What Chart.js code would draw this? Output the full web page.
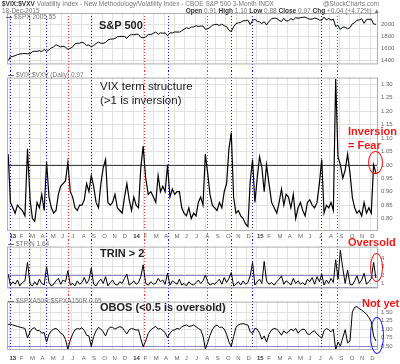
<!DOCTYPE html>
<html>
<head>
<meta charset="utf-8">
<script src="https://cdn.jsdelivr.net/npm/chart.js@4.4.1/dist/chart.umd.min.js"></script>
<style>
  html, body { margin: 0; padding: 0; background: #fff; }
  #wrap { position: relative; width: 400px; height: 364px; overflow: hidden; font-family: "Liberation Sans", Arial, sans-serif; }
  canvas { position: absolute; left: 0; }
  .t { position: absolute; white-space: nowrap; line-height: 1; }
  .hdr { font-size: 6.5px; color: #777; }
  .hdr b { color: #333; }
  .lbl { font-size: 6.5px; color: #777; }
  .mark { display: inline-block; width: 6px; height: 1px; background: #666; vertical-align: middle; margin-right: 2px; }
  .note { font-size: 11px; font-weight: bold; color: #222; }
  .plain { font-weight: normal; font-size: 11.5px; }
  .red { color: #ee1a1a; }
  .ring { position: absolute; border-radius: 50%; box-sizing: border-box; }
</style>
</head>
<body>
<div id="wrap">
  <canvas id="c1" width="400" height="71" style="top:0"></canvas>
  <canvas id="c2" width="400" height="169" style="top:71px"></canvas>
  <canvas id="c3" width="400" height="55" style="top:240px"></canvas>
  <canvas id="c4" width="400" height="69" style="top:295px"></canvas>

  <div class="t hdr" style="left:2px;top:1px"><b>$VIX:$VXV</b> Volatility Index - New Methodology/Volatility Index - CBOE S&amp;P 500 3-Month INDX</div>
  <div class="t hdr" style="right:21px;top:1px">@StockCharts.com</div>
  <div class="t hdr" style="left:2px;top:8px">18-Dec-2015</div>
  <div class="t hdr" style="right:20px;top:8px"><b>Open</b> 0.91 <b>High</b> 1.10 <b>Low</b> 0.88 <b>Close</b> 0.97 <b>Chg</b> +0.04 (+4.72%) &#9650;</div>

  <div class="t lbl" style="left:6px;top:14px"><span class="mark"></span>$SPX 2005.55</div>
  <div class="t lbl" style="left:8px;top:72px"><span class="mark"></span>$VIX:$VXV (Daily) 0.97</div>
  <div class="t lbl" style="left:8px;top:241px"><span class="mark"></span>$TRIN 1.64</div>
  <div class="t lbl" style="left:8px;top:298px"><span class="mark"></span>$SPXA50R:$SPXA150R 0.65</div>

  <div class="t note" style="left:99px;top:20px">S&amp;P 500</div>
  <div class="t note plain" style="left:100px;top:81px">VIX term structure</div>
  <div class="t note plain" style="left:100px;top:95px">(&gt;1 is inversion)</div>
  <div class="t note red" style="left:348px;top:126px">Inversion</div>
  <div class="t note red" style="left:348px;top:140px">= Fear</div>
  <div class="t note" style="left:100px;top:248px">TRIN &gt; 2</div>
  <div class="t note red" style="left:348px;top:237px">Oversold</div>
  <div class="t note" style="left:100px;top:302px">OBOS (&lt;0.5 is oversold)</div>
  <div class="t note red" style="left:362px;top:298px">Not yet</div>

  <div class="ring" style="left:368px;top:151px;width:15px;height:23px;border:1.5px solid #ee1a1a"></div>
  <div class="ring" style="left:370px;top:253px;width:13px;height:29px;border:1.5px solid #ee1a1a"></div>
  <div class="ring" style="left:370px;top:317px;width:14px;height:37px;border:1.5px solid #1a1aee"></div>
</div>

<script>
// weekly closes (Fridays), first point 28-Dec-2012, last 18-Dec-2015
const firstWeek = [2012, 11, 28];

const spx = [1402,
  // 2013
  1466, 1472, 1486, 1503, 1513, 1518, 1520, 1516, 1518, 1551, 1561, 1556, 1569,
  1553, 1588, 1555, 1582, 1614, 1633, 1667, 1650, 1631, 1643, 1626, 1592, 1606,
  1632, 1680, 1692, 1692, 1710, 1691, 1656, 1664, 1633, 1655, 1688, 1710, 1692,
  1691, 1704, 1745, 1760, 1762, 1771, 1798, 1804, 1806, 1805, 1775, 1818, 1841,
  // 2014
  1831, 1843, 1838, 1790, 1783, 1797, 1838, 1836, 1859, 1878, 1841, 1866, 1857,
  1865, 1816, 1865, 1863, 1881, 1878, 1878, 1900, 1924, 1950, 1936, 1963, 1961,
  1985, 1968, 1978, 1978, 1925, 1931, 1955, 1988, 2003, 2008, 1985, 2010, 1983,
  1968, 1906, 1887, 1964, 2018, 2032, 2039, 2064, 2068, 2075, 2003, 2071, 2089,
  // 2015
  2058, 2045, 2019, 2051, 1995, 2055, 2097, 2110, 2105, 2071, 2053, 2108, 2061,
  2067, 2102, 2081, 2117, 2108, 2116, 2123, 2126, 2107, 2092, 2094, 2110, 2101,
  2077, 2077, 2127, 2079, 2104, 2078, 2092, 1971, 1989, 1921, 1961, 1958, 1932,
  1951, 2015, 2033, 2075, 2079, 2099, 2023, 2089, 2090, 2092, 2012, 2006
];

const vixRatio = [1.04,
  // 2013
  0.86, 0.84, 0.82, 0.85, 0.84, 0.83, 0.81, 1.06, 0.87, 0.80, 0.79, 0.86, 0.84,
  0.89, 0.83, 1.01, 0.88, 0.84, 0.82, 0.83, 0.89, 0.92, 0.93, 0.94, 1.01, 0.90,
  0.88, 0.84, 0.83, 0.85, 0.85, 0.87, 0.93, 0.90, 0.96, 0.92, 0.86, 0.84, 0.93,
  0.99, 1.02, 0.86, 0.85, 0.86, 0.89, 0.84, 0.83, 0.82, 0.88, 0.93, 0.87, 0.83,
  // 2014
  0.88, 0.85, 0.84, 0.99, 1.07, 0.95, 0.89, 0.90, 0.88, 0.86, 0.96, 0.90, 0.92,
  0.90, 1.00, 0.88, 0.91, 0.89, 0.90, 0.90, 0.84, 0.82, 0.81, 0.84, 0.80, 0.82,
  0.81, 0.86, 0.88, 0.85, 1.04, 0.97, 0.89, 0.85, 0.84, 0.83, 0.86, 0.84, 0.90,
  0.93, 1.06, 1.12, 0.88, 0.82, 0.83, 0.81, 0.80, 0.78, 0.77, 0.94, 1.02, 0.86,
  // 2015
  0.95, 1.03, 0.99, 0.90, 1.00, 0.93, 0.86, 0.84, 0.82, 0.86, 0.91, 0.85, 0.89,
  0.88, 0.84, 0.89, 0.80, 0.84, 0.86, 0.83, 0.81, 0.86, 0.87, 0.85, 0.84, 0.86,
  0.93, 1.02, 0.82, 0.85, 0.84, 0.86, 0.83, 1.32, 1.03, 1.00, 0.95, 0.98, 1.04,
  0.97, 0.88, 0.84, 0.82, 0.83, 0.81, 0.86, 0.82, 0.84, 0.82, 1.00, 0.97
];

const trin = [2.1,
  // 2013
  0.8, 1.2, 0.9, 1.4, 0.7, 1.1, 1.3, 3.5, 0.9, 0.7, 1.2, 0.8, 1.5,
  1.0, 0.8, 3.0, 1.1, 0.7, 0.9, 1.3, 1.6, 0.9, 1.4, 1.2, 2.5, 0.8,
  1.0, 0.7, 1.3, 0.9, 1.1, 1.7, 1.0, 1.4, 2.8, 0.9, 0.7, 1.2, 1.5,
  1.0, 1.8, 0.7, 1.1, 1.4, 0.9, 0.8, 1.2, 1.0, 1.6, 2.1, 0.8, 1.0,
  // 2014
  1.3, 0.9, 1.1, 1.8, 3.2, 1.0, 0.8, 1.2, 0.9, 1.0, 1.6, 1.2, 1.4,
  0.9, 2.2, 0.8, 1.3, 1.1, 0.9, 1.5, 0.8, 1.0, 0.7, 1.2, 0.9, 0.8,
  1.1, 1.4, 1.0, 1.3, 2.0, 1.2, 0.8, 1.0, 0.9, 1.2, 1.5, 0.9, 1.7,
  1.1, 1.6, 2.3, 0.7, 0.9, 1.2, 0.8, 1.3, 0.9, 1.1, 1.9, 3.5, 0.8,
  // 2015
  1.2, 1.5, 1.0, 3.6, 1.3, 0.9, 1.1, 0.8, 1.2, 1.5, 1.9, 0.9, 1.3,
  1.1, 0.8, 1.6, 1.0, 1.3, 0.9, 1.1, 0.8, 1.5, 1.2, 1.7, 0.9, 1.8,
  1.2, 2.1, 0.8, 1.4, 1.0, 1.6, 1.1, 3.8, 1.5, 4.9, 2.8, 1.0, 2.6,
  0.9, 0.8, 1.3, 1.9, 1.0, 1.4, 2.2, 0.9, 1.2, 1.6, 3.5, 1.64
];

const obos = [1.13,
  // 2013
  1.15, 1.12, 1.10, 1.08, 1.06, 1.04, 1.02, 0.74, 0.92, 1.02, 1.04, 0.95, 0.96,
  0.88, 0.90, 0.62, 0.85, 0.95, 1.00, 1.02, 0.97, 0.88, 0.84, 0.70, 0.41, 0.68,
  0.85, 0.98, 1.02, 1.00, 1.04, 0.96, 0.82, 0.80, 0.49, 0.78, 0.95, 1.05, 1.00,
  0.92, 0.80, 0.98, 1.06, 1.05, 1.00, 1.04, 1.07, 1.05, 0.95, 0.86, 0.98, 1.02,
  // 2014
  1.00, 0.97, 0.98, 0.72, 0.48, 0.65, 0.88, 0.98, 1.04, 1.08, 1.00, 1.02, 0.96,
  0.90, 0.75, 0.88, 0.96, 0.98, 1.02, 1.00, 1.06, 1.10, 1.12, 1.08, 1.09, 1.12,
  1.07, 1.02, 0.98, 0.80, 0.42, 0.60, 0.82, 0.98, 1.08, 1.12, 1.05, 1.06, 1.00,
  0.85, 0.62, 0.49, 0.78, 1.05, 1.12, 1.15, 1.16, 1.14, 1.12, 0.92, 0.87, 1.02,
  // 2015
  1.00, 0.88, 0.70, 0.80, 0.62, 0.85, 0.98, 1.02, 1.00, 0.92, 0.82, 0.95, 0.88,
  0.92, 1.00, 0.95, 1.02, 0.88, 0.96, 1.00, 0.98, 0.86, 0.84, 0.92, 0.95, 0.85,
  0.80, 0.73, 0.95, 1.02, 0.98, 0.92, 1.00, 0.39, 0.62, 0.50, 0.75, 0.98, 0.60,
  0.65, 1.50, 1.64, 1.66, 1.60, 1.56, 1.50, 1.44, 1.34, 1.22, 0.80, 0.65
];

const monthLabels = [
  '13', 'F', 'M', 'A', 'M', 'J', 'J', 'A', 'S', 'O', 'N', 'D',
  '14', 'F', 'M', 'A', 'M', 'J', 'J', 'A', 'S', 'O', 'N', 'D',
  '15', 'F', 'M', 'A', 'M', 'J', 'J', 'A', 'S', 'O', 'N', 'D'
];

const blueEvents = ['2013-01-02', '2013-02-25', '2013-04-18', '2013-08-30', '2014-04-11',
  '2014-10-15', '2014-12-16', '2015-07-08'];
const redEvents = ['2013-06-20', '2014-02-03', '2014-08-06', '2015-08-24'];

const spxTicks = [1400, 1500, 1600, 1700, 1800, 1900, 2000, 2100];
const vixTicks = [0.80, 0.85, 0.90, 0.95, 1.00, 1.05, 1.10, 1.15, 1.20, 1.25, 1.30];
const trinTicks = [1, 2, 3, 4];
const obosTicks = [0.50, 0.75, 1.00, 1.25, 1.50];

const FONT = '"Liberation Sans", Arial, sans-serif';
const GRID = '#e2e2e2';

// months since 1-Jan-2013, fractional
function monthPos(d) {
	const y = d.getUTCFullYear();
	const mo = d.getUTCMonth();
	const dim = new Date(Date.UTC(y, mo + 1, 0)).getUTCDate();
	return (y - 2013) * 12 + mo + (d.getUTCDate() - 1) / dim;
}

const xs = spx.map((_, i) => monthPos(new Date(Date.UTC(firstWeek[0], firstWeek[1], firstWeek[2] + 7 * i))));
const X_MIN = -0.24;
const X_MAX = 35.75;

function decor(cfg) {
	return {
		id: 'decor',
		beforeDatasetsDraw(chart) {
			const { ctx, chartArea, scales } = chart;
			ctx.save();
			(cfg.hLines || []).forEach((line) => {
				const y = Math.round(scales.y.getPixelForValue(line.value)) + 0.5;
				ctx.strokeStyle = line.color;
				ctx.lineWidth = line.width;
				ctx.beginPath();
				ctx.moveTo(chartArea.left, y);
				ctx.lineTo(chartArea.right, y);
				ctx.stroke();
			});
			const top = cfg.evFromArea ? chartArea.top : 0;
			const bottom = cfg.evToArea ? chartArea.bottom : chart.height;
			ctx.lineWidth = 1;
			ctx.setLineDash([1, 2]);
			[[blueEvents, '#1010ee'], [redEvents, '#ff2222']].forEach(([dates, color]) => {
				ctx.strokeStyle = color;
				dates.forEach((date) => {
					const x = Math.round(scales.x.getPixelForValue(monthPos(new Date(date + 'T00:00:00Z')))) + 0.5;
					ctx.beginPath();
					ctx.moveTo(x, top);
					ctx.lineTo(x, bottom);
					ctx.stroke();
				});
			});
			ctx.restore();
		},
		afterDraw(chart) {
			const { ctx, chartArea } = chart;
			ctx.save();
			ctx.strokeStyle = '#b0b0b0';
			ctx.lineWidth = 1;
			ctx.strokeRect(chartArea.left + 0.5, chartArea.top + 0.5, chartArea.width - 1, chartArea.height - 1);
			ctx.restore();
		},
	};
}

function makePanel(id, cfg) {
	return new Chart(document.getElementById(id), {
		type: 'line',
		data: {
			datasets: [{
				data: cfg.values.map((v, i) => ({ x: xs[i], y: v })),
				borderColor: '#000',
				borderWidth: cfg.lineWidth || 1,
				pointRadius: 0,
				tension: 0,
			}],
		},
		options: {
			responsive: false,
			animation: false,
			events: [],
			layout: { padding: { left: 7, right: 0, top: cfg.padTop, bottom: cfg.padBottom } },
			plugins: { legend: { display: false }, tooltip: { enabled: false } },
			scales: {
				x: {
					type: 'linear',
					min: X_MIN,
					max: X_MAX,
					afterFit: (s) => { s.height = cfg.axisHeight; },
					afterBuildTicks: (s) => { s.ticks = monthLabels.map((_, k) => ({ value: k })); },
					grid: { color: GRID, drawTicks: false },
					border: { display: false },
					ticks: {
						display: cfg.showMonths,
						autoSkip: false,
						maxRotation: 0,
						align: 'start',
						padding: cfg.labelPad || 2,
						color: (ctx) => (ctx.index % 12 === 0 ? '#333' : '#666'),
						font: (ctx) => ({ family: FONT, size: 6, weight: ctx.index % 12 === 0 ? 'bold' : 'normal' }),
						callback: (v, i) => monthLabels[i],
					},
				},
				y: {
					position: 'right',
					min: cfg.min,
					max: cfg.max,
					afterFit: (s) => { s.width = 22; },
					afterBuildTicks: (s) => { s.ticks = cfg.ticks.map((v) => ({ value: v })); },
					grid: { color: GRID, drawTicks: false },
					border: { display: false },
					ticks: {
						padding: 3,
						color: '#666',
						font: { family: FONT, size: 6 },
						callback: (v) => cfg.fmt(v),
					},
				},
			},
		},
		plugins: [decor(cfg)],
	});
}

makePanel('c1', {
	values: spx, min: 1340, max: 2195, ticks: spxTicks, fmt: (v) => String(v),
	padTop: 13, padBottom: 1, axisHeight: 0, showMonths: false, evFromArea: true,
});
makePanel('c2', {
	values: vixRatio, min: 0.7536, max: 1.325, ticks: vixTicks, fmt: (v) => v.toFixed(2), lineWidth: 1.2,
	padTop: 0, padBottom: 0, axisHeight: 9, showMonths: true,
	hLines: [{ value: 1.0, color: '#444', width: 1.2 }],
});
makePanel('c3', {
	values: trin, min: 0.41, max: 5.36, ticks: trinTicks, fmt: (v) => String(v),
	padTop: 0, padBottom: 2, axisHeight: 0, showMonths: false,
	hLines: [{ value: 2, color: '#8a8ac8', width: 1 }, { value: 0.6, color: '#8a8ac8', width: 1 }],
});
makePanel('c4', {
	values: obos, min: 0.387, max: 1.808, ticks: obosTicks, fmt: (v) => v.toFixed(2),
	padTop: 1, padBottom: 1, axisHeight: 13, labelPad: 5, showMonths: true, evToArea: true,
	hLines: [{ value: 0.5, color: '#8a8ac8', width: 1 }],
});
</script>
</body>
</html>
